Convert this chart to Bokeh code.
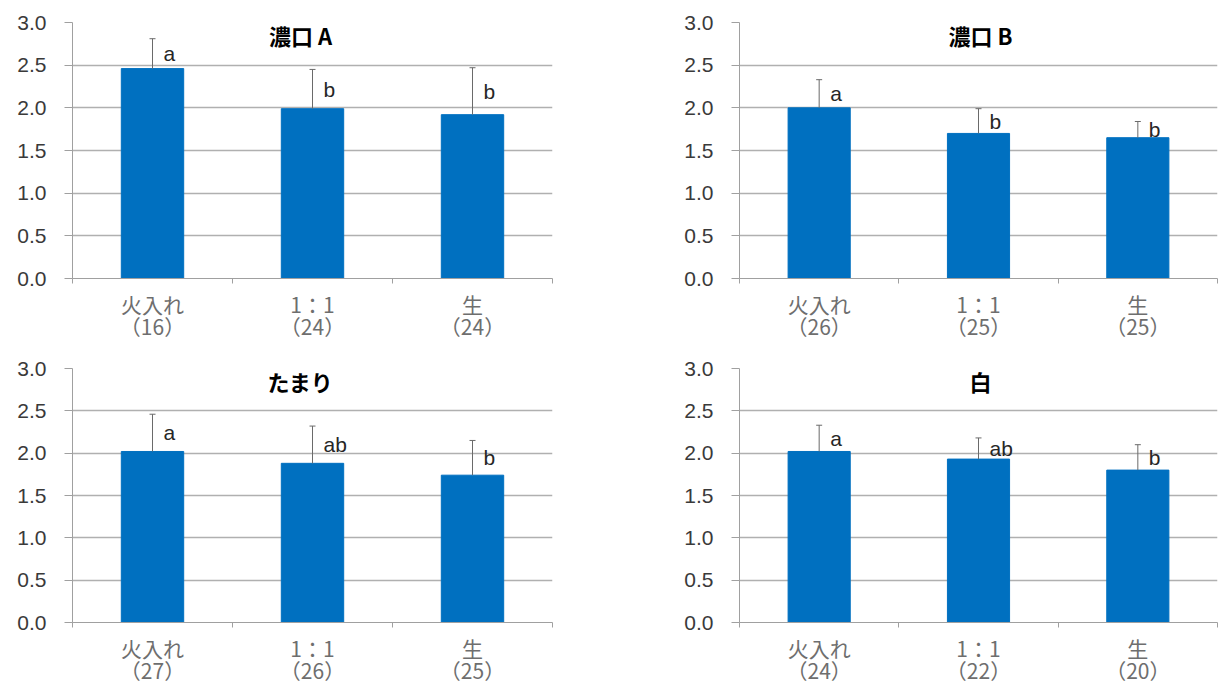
from bokeh.plotting import figure
from bokeh.models import (Range1d, FixedTicker, Label, Whisker, TeeHead,
                          ColumnDataSource, PrintfTickFormatter)
from bokeh.core.properties import value
from bokeh.layouts import column, row
from bokeh.embed import file_html
from bokeh.resources import INLINE

# ---- data ----
categories = ["火入れ", "1：1", "生"]
yticks = [0.0, 0.5, 1.0, 1.5, 2.0, 2.5, 3.0]

titles = ["濃口 A", "濃口 B", "たまり", "白"]

mean_A = [2.46, 1.99, 1.92]
sd_A = [0.35, 0.46, 0.55]
n_A = [16, 24, 24]
letters_A = ["a", "b", "b"]

mean_B = [2.00, 1.70, 1.65]
sd_B = [0.33, 0.29, 0.19]
n_B = [26, 25, 25]
letters_B = ["a", "b", "b"]

mean_T = [2.02, 1.88, 1.74]
sd_T = [0.44, 0.44, 0.41]
n_T = [27, 26, 25]
letters_T = ["a", "ab", "b"]

mean_S = [2.02, 1.93, 1.80]
sd_S = [0.31, 0.25, 0.30]
n_S = [24, 22, 20]
letters_S = ["a", "ab", "b"]

BAR = "#0070C0"
GRID = "#b0b0b0"
AXIS = "#a0a0a0"
ERR = "#6a6a6a"
CJK = "Noto Sans CJK JP"
LAT = "Liberation Sans"


def panel(title, means, sds, ns, letters, bl, br, bt, bb, title_dx, standoff=5):
    xs = [i + 0.5 for i in range(len(categories))]
    src = ColumnDataSource(dict(
        x=xs, mean=means,
        upper=[m + s for m, s in zip(means, sds)],
        ly=[m + s / 2 for m, s in zip(means, sds)],
        letter=letters))
    p = figure(width=609, height=344, x_range=Range1d(0, 3), y_range=Range1d(0, 3),
               output_backend="svg", toolbar_location=None,
               min_border_left=bl, min_border_right=br,
               min_border_top=bt, min_border_bottom=bb)
    p.outline_line_color = None
    p.background_fill_color = "white"
    p.border_fill_color = "white"

    p.vbar(x="x", top="mean", width=0.39, source=src, fill_color=BAR, line_color=BAR)
    w = Whisker(source=src, base="x", upper="upper", lower="mean",
                line_color=ERR, line_width=1,
                upper_head=TeeHead(size=6, line_color=ERR, line_width=1),
                lower_head=None, level="overlay")
    p.add_layout(w)
    p.text(x="x", y="ly", text="letter", source=src, x_offset=11,
           text_align="left", text_baseline="middle",
           text_font=value(LAT), text_font_size="21px", text_color="#262626")

    p.add_layout(Label(x=1.5, y=2.85, text=title, x_offset=title_dx,
                       text_align="center", text_baseline="middle",
                       text_font=CJK, text_font_style="bold",
                       text_font_size="22px", text_color="black"))

    # x axis
    xa = p.xaxis[0]
    xa.ticker = FixedTicker(ticks=xs, minor_ticks=[0, 1, 2, 3])
    ov = {}
    for x, c, n in zip(xs, categories, ns):
        lab = f"{c}\n（{n}）"
        ov[x] = lab
        ov[str(x)] = lab
    xa.major_label_overrides = ov
    xa.major_tick_out = 0
    xa.major_tick_in = 0
    xa.minor_tick_out = 5
    xa.minor_tick_in = 0
    xa.minor_tick_line_color = AXIS
    xa.axis_line_color = AXIS
    xa.major_label_text_font = CJK
    xa.major_label_text_font_size = "21px"
    xa.major_label_text_line_height = 0.74
    xa.major_label_text_color = "#6e6e6e"
    xa.major_label_standoff = standoff

    ya = p.yaxis[0]
    ya.ticker = FixedTicker(ticks=yticks)
    ya.formatter = PrintfTickFormatter(format="%.1f")
    ya.major_tick_out = 8
    ya.major_tick_in = 0
    ya.minor_tick_out = 0
    ya.minor_tick_in = 0
    ya.major_tick_line_color = AXIS
    ya.axis_line_color = AXIS
    ya.major_label_text_font = LAT
    ya.major_label_text_font_size = "21px"
    ya.major_label_text_color = "#3a3a3a"
    ya.major_label_standoff = 18

    p.xgrid.visible = False
    p.ygrid.ticker = FixedTicker(ticks=yticks)
    p.ygrid.grid_line_color = GRID
    p.ygrid.grid_line_width = 1.3
    return p


p1 = panel(titles[0], mean_A, sd_A, n_A, letters_A, 72, 57, 22, 66, -12)
p2 = panel(titles[1], mean_B, sd_B, n_B, letters_B, 130, 1, 22, 66, 2)
p3 = panel(titles[2], mean_T, sd_T, n_T, letters_T, 72, 57, 23, 66, -12)
p4 = panel(titles[3], mean_S, sd_S, n_S, letters_S, 130, 1, 24, 62, 2)

layout = column(row(p1, p2), row(p3, p4))
open("out.html", "w").write(file_html(layout, INLINE))
